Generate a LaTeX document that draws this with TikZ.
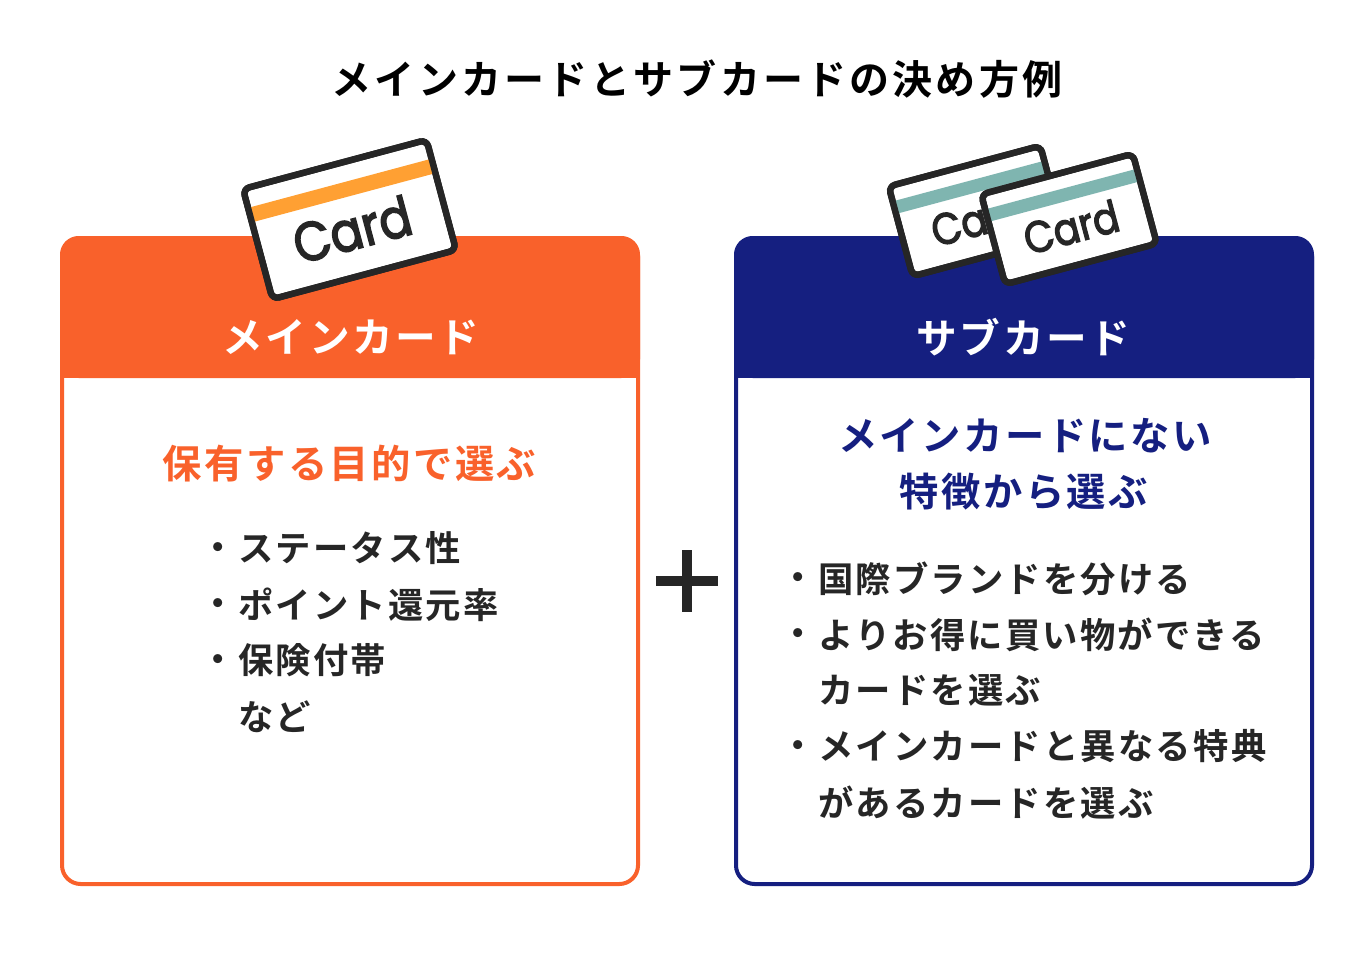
\documentclass[tikz,border=0pt]{standalone}
\usepackage{fontspec}
\usepackage{graphicx}
\newfontfamily\jpT[LetterSpace=7.9]{Noto Sans CJK JP Bold}
\newfontfamily\jpA[LetterSpace=6.2]{Noto Sans CJK JP Bold}
\newfontfamily\jpH[LetterSpace=6.5]{Noto Sans CJK JP Bold}
\newfontfamily\jpB[LetterSpace=6.2]{Noto Sans CJK JP Bold}
\newfontfamily\cardfont{Poppins}[FakeBold=3]
\definecolor{orangeM}{HTML}{F9612B}
\definecolor{navyM}{HTML}{151F80}
\definecolor{inkM}{HTML}{262626}
\definecolor{stripeO}{HTML}{FFA033}
\definecolor{stripeT}{HTML}{7FB5B0}
\tikzset{
  x=0.75pt,y=-0.75pt,
  titlet/.style={font=\jpT\fontsize{30pt}{34pt}\selectfont,text=black,inner sep=0pt},
  headt/.style={font=\jpH\fontsize{30.5pt}{34pt}\selectfont,text=white,inner sep=0pt},
  subO/.style={font=\jpA\fontsize{29.5pt}{34pt}\selectfont,text=orangeM,inner sep=0pt},
  subN/.style={font=\jpA\fontsize{29.5pt}{34pt}\selectfont,text=navyM,inner sep=0pt},
  listt/.style={font=\jpB\fontsize{26.5pt}{30pt}\selectfont,text=inkM,inner sep=0pt,anchor=west},
  cardbody/.style={draw=inkM,fill=white,line width=4.8pt,rounded corners=5pt},
}
\newcommand{\bankcard}[9]{% 1 cx 2 cy 3 half w 4 half h 5 stripe col 6 stripe offset 7 stripe half 8 font size(pt) 9 name
  \begin{scope}[shift={(#1,#2)},rotate=15]
    \draw[cardbody] (-#3,-#4) rectangle (#3,#4);
    \fill[#5] (-#3+0.0,-#4+#6-#7) rectangle (#3,-#4+#6+#7);
    \draw[draw=inkM,line width=4.8pt,rounded corners=5pt] (-#3,-#4) rectangle (#3,#4);
    \node[inner sep=0pt,text=inkM,rotate=15,font=\cardfont\fontsize{#8pt}{#8pt}\selectfont] (#9) at (0,#4*0.18) {\scalebox{0.88}[1]{Card}};
  \end{scope}}
\begin{document}
\begin{tikzpicture}
\useasboundingbox (0,0) rectangle (1370,960);
\fill[white] (0,0) rectangle (1370,960);
\node[titlet] (title) at (697,79) {メインカードとサブカードの決め方例};

% left panel
\draw[orangeM,line width=3pt,fill=white,rounded corners=14pt] (62,238) rectangle (638,884);
\fill[orangeM,rounded corners=14pt] (60,236) -- (640,236) -- (640,378) -- (60,378) -- cycle;
\fill[orangeM] (60,300) rectangle (640,378);
% right panel
\draw[navyM,line width=3pt,fill=white,rounded corners=14pt] (736,238) rectangle (1312,884);
\fill[navyM,rounded corners=14pt] (734,236) -- (1314,236) -- (1314,378) -- (734,378) -- cycle;
\fill[navyM] (734,300) rectangle (1314,378);

% cards
\bankcard{349.5}{219.5}{95}{57}{stripeO}{27}{7.5}{41}{cardA}
\bankcard{976.5}{211}{78.5}{46.5}{stripeT}{22}{6.5}{33}{cardB}
\bankcard{1069}{219}{78.5}{46.5}{stripeT}{22}{6.5}{33}{cardC}

\node[headt] (hl) at (351,337) {メインカード};
\node[headt] (hr) at (1023.5,337) {サブカード};
\node[subO] (sl) at (349.5,464) {保有する目的で選ぶ};
\node[subN] (sr1) at (1025,436) {メインカードにない};
\node[subN] (sr2) at (1024,492) {特徴から選ぶ};

% plus
\coordinate (pl) at (656,581);
\coordinate (pr) at (718,581);
\coordinate (pt) at (687,550);
\coordinate (pb) at (687,612);
\draw[inkM,line width=7.5pt] (pl) -- (pr);
\draw[inkM,line width=7.5pt] (pt) -- (pb);

% left list
\node[listt] (l0b) at (200,552) {・};
\node[listt] (l0) at (238,548.5) {ステータス性};
\node[listt] (l1b) at (200,608) {・};
\node[listt] (l1) at (238,604.5) {ポイント還元率};
\node[listt] (l2b) at (200,664) {・};
\node[listt] (l2) at (238,660.5) {保険付帯};
\node[listt] (l3) at (238,716.5) {など};

% right list
\node[listt] (r0b) at (780,582) {・};
\node[listt] (r0) at (818,578.5) {国際ブランドを分ける};
\node[listt] (r1b) at (780,638) {・};
\node[listt] (r1) at (818,634.5) {よりお得に買い物ができる};
\node[listt] (r2) at (818,690.5) {カードを選ぶ};
\node[listt] (r3b) at (780,750) {・};
\node[listt] (r3) at (818,746.5) {メインカードと異なる特典};
\node[listt] (r4) at (818,802.5) {があるカードを選ぶ};
\end{tikzpicture}
\end{document}
